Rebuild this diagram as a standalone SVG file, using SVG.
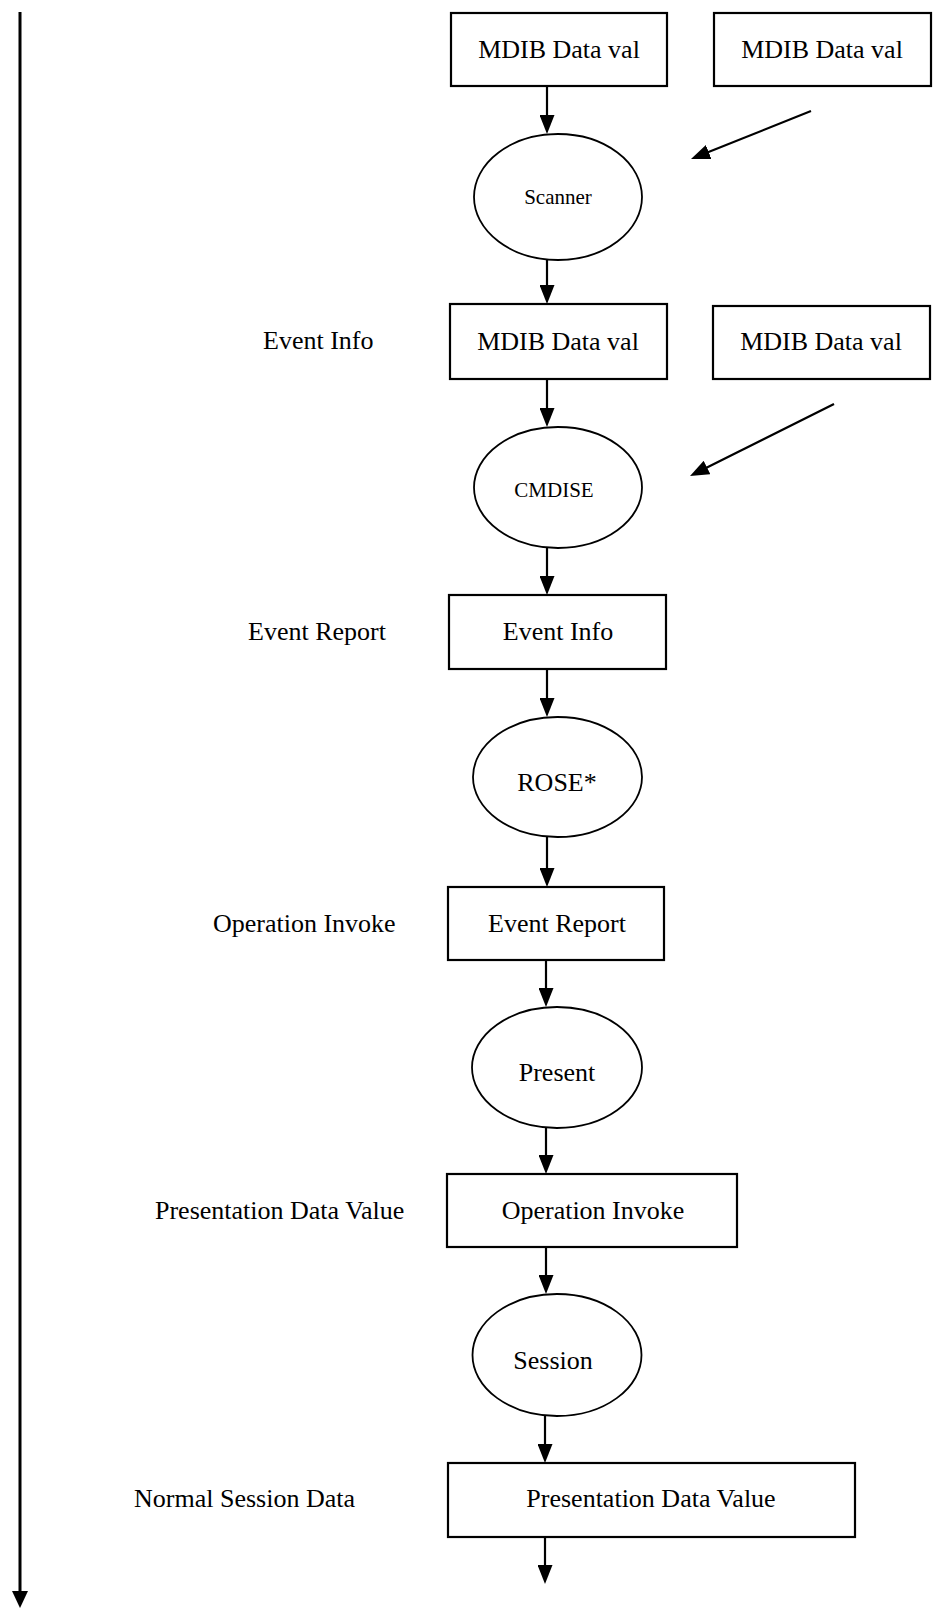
<svg xmlns="http://www.w3.org/2000/svg" width="936" height="1613" viewBox="0 0 936 1613">
  <style>
    .box { fill: #ffffff; stroke: #000000; stroke-width: 2.2; }
    .oval { fill: #ffffff; stroke: #000000; stroke-width: 1.8; }
    .t { font-family: "Liberation Serif", "Times New Roman", serif; font-size: 26px; fill: #000000; }
    .c { text-anchor: middle; }
    .sm { font-size: 21px; }
    .flow { stroke: #000000; stroke-width: 2.2; fill: none; }
    .time { stroke: #000000; stroke-width: 3; fill: none; }
  </style>
  <defs>
    <!-- solid triangular head; line ends 6px short of the tip -->
    <marker id="head" viewBox="0 0 19 15" refX="13" refY="7.5" markerWidth="19" markerHeight="15" markerUnits="userSpaceOnUse" orient="auto">
      <path d="M0,0 L19,7.5 L0,15 Z" fill="#000000"/>
    </marker>
    <marker id="headTime" viewBox="0 0 17 16" refX="11" refY="8" markerWidth="17" markerHeight="16" markerUnits="userSpaceOnUse" orient="auto">
      <path d="M0,0 L17,8 L0,16 Z" fill="#000000"/>
    </marker>
  </defs>

  <rect width="936" height="1613" fill="#ffffff"/>

  <!-- time axis on the left -->
  <g id="timeline">
    <line class="time" x1="20" y1="12" x2="20" y2="1602" marker-end="url(#headTime)"/>
  </g>

  <!-- side labels -->
  <g id="labels">
    <text class="t" x="263" y="349">Event Info</text>
    <text class="t" x="248" y="640">Event Report</text>
    <text class="t" x="213" y="932">Operation Invoke</text>
    <text class="t" x="155" y="1219">Presentation Data Value</text>
    <text class="t" x="134" y="1507">Normal Session Data</text>
  </g>

  <!-- connectors -->
  <g id="connectors">
    <line class="flow" x1="547" y1="86" x2="547" y2="128" marker-end="url(#head)"/>
    <line class="flow" x1="547" y1="260" x2="547" y2="298" marker-end="url(#head)"/>
    <line class="flow" x1="547" y1="379" x2="547" y2="421" marker-end="url(#head)"/>
    <line class="flow" x1="547" y1="548" x2="547" y2="589" marker-end="url(#head)"/>
    <line class="flow" x1="547" y1="669" x2="547" y2="711" marker-end="url(#head)"/>
    <line class="flow" x1="547" y1="837" x2="547" y2="881" marker-end="url(#head)"/>
    <line class="flow" x1="546" y1="960" x2="546" y2="1001" marker-end="url(#head)"/>
    <line class="flow" x1="546" y1="1128" x2="546" y2="1168" marker-end="url(#head)"/>
    <line class="flow" x1="546" y1="1247" x2="546" y2="1288" marker-end="url(#head)"/>
    <line class="flow" x1="545" y1="1416" x2="545" y2="1457" marker-end="url(#head)"/>
    <line class="flow" x1="545" y1="1537" x2="545" y2="1578" marker-end="url(#head)"/>
    <line class="flow" x1="811" y1="111" x2="696.6" y2="156.8" marker-end="url(#head)"/>
    <line class="flow" x1="834" y1="404" x2="695.4" y2="473.3" marker-end="url(#head)"/>
  </g>

  <!-- nodes -->
  <g id="mdib-1">
    <rect class="box" x="451" y="13" width="216" height="73"/>
    <text class="t c" x="559" y="58">MDIB Data val</text>
  </g>
  <g id="mdib-2">
    <rect class="box" x="714" y="13" width="217" height="73"/>
    <text class="t c" x="822" y="58">MDIB Data val</text>
  </g>
  <g id="scanner">
    <ellipse class="oval" cx="558" cy="197" rx="84" ry="63"/>
    <text class="t c sm" x="558" y="204">Scanner</text>
  </g>
  <g id="mdib-3">
    <rect class="box" x="450" y="304" width="217" height="75"/>
    <text class="t c" x="558" y="350">MDIB Data val</text>
  </g>
  <g id="mdib-4">
    <rect class="box" x="713" y="306" width="217" height="73"/>
    <text class="t c" x="821" y="350">MDIB Data val</text>
  </g>
  <g id="cmdise">
    <ellipse class="oval" cx="558" cy="487.5" rx="84" ry="60.5"/>
    <text class="t c sm" x="554" y="497">CMDISE</text>
  </g>
  <g id="event-info">
    <rect class="box" x="449" y="595" width="217" height="74"/>
    <text class="t c" x="558" y="640">Event Info</text>
  </g>
  <g id="rose">
    <ellipse class="oval" cx="557.5" cy="777" rx="84.5" ry="60"/>
    <text class="t c" x="557" y="791">ROSE*</text>
  </g>
  <g id="event-report">
    <rect class="box" x="448" y="887" width="216" height="73"/>
    <text class="t c" x="557" y="932">Event Report</text>
  </g>
  <g id="present">
    <ellipse class="oval" cx="557" cy="1067.5" rx="85" ry="60.5"/>
    <text class="t c" x="557" y="1081">Present</text>
  </g>
  <g id="operation-invoke">
    <rect class="box" x="447" y="1174" width="290" height="73"/>
    <text class="t c" x="593" y="1219">Operation Invoke</text>
  </g>
  <g id="session">
    <ellipse class="oval" cx="557" cy="1355" rx="84.5" ry="61"/>
    <text class="t c" x="553" y="1369">Session</text>
  </g>
  <g id="presentation-data-value">
    <rect class="box" x="448" y="1463" width="407" height="74"/>
    <text class="t c" x="651" y="1507">Presentation Data Value</text>
  </g>
</svg>
